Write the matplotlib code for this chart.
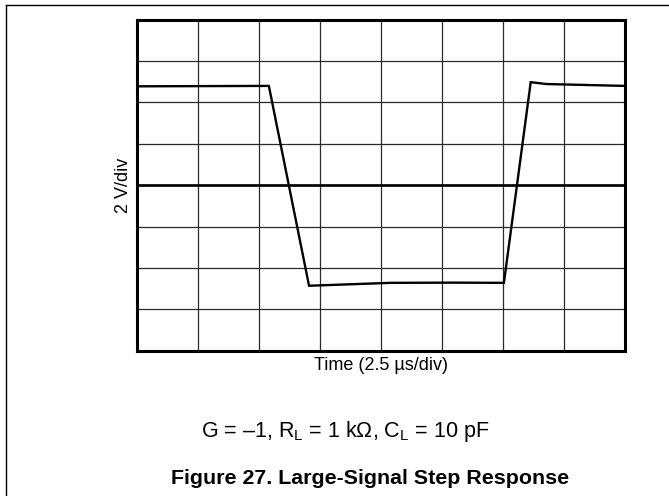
import matplotlib
matplotlib.use("Agg")
import matplotlib.pyplot as plt
from matplotlib.lines import Line2D

plt.rcParams["font.family"] = ["Liberation Sans", "DejaVu Sans"]
plt.rcParams["mathtext.fontset"] = "custom"
plt.rcParams["mathtext.rm"] = "Liberation Sans"
plt.rcParams["mathtext.it"] = "Liberation Sans:italic"
plt.rcParams["mathtext.bf"] = "Liberation Sans:bold"

# Scope trace of the inverting step (time in µs, output in V)
time_us = [0.0, 5.4, 7.05, 10.4, 13.0, 15.05, 16.15, 16.8, 20.0]
vout_v = [4.78, 4.80, -4.86, -4.72, -4.71, -4.72, 4.98, 4.89, 4.80]

# Screen graticule: 8 x 8 divisions
time_per_div = 2.5
volt_per_div = 2.0
n_div = 8

x_label = "Time (2.5 µs/div)"
y_label = "2 V/div"
conditions = r"G = –1, $\mathrm{R_L}$ = 1 kΩ, $\mathrm{C_L}$ = 10 pF"
title = "Figure 27. Large-Signal Step Response"

W, H = 669, 496
fig = plt.figure(figsize=(W / 100, H / 100), dpi=100)

# Page frame lines (top and left)
fig.add_artist(Line2D([6 / W, 1.0], [1 - 5 / H, 1 - 5 / H], color="black", lw=1.0,
                      transform=fig.transFigure))
fig.add_artist(Line2D([6 / W, 6 / W], [0.0, 1 - 5 / H], color="black", lw=1.0,
                      transform=fig.transFigure))

left, right, top, bottom = 137.3, 624.5, 19.7, 350.7
ax = fig.add_axes([left / W, 1 - bottom / H, (right - left) / W, (bottom - top) / H])

t_max = time_per_div * n_div
v_half = volt_per_div * n_div / 2
ax.set_xlim(0, t_max)
ax.set_ylim(-v_half, v_half)
ax.set_xticks([i * time_per_div for i in range(n_div + 1)])
ax.set_yticks([-v_half + i * volt_per_div for i in range(n_div + 1)])
ax.tick_params(length=0, labelbottom=False, labelleft=False)
ax.grid(True, color="#2a2a2a", lw=0.9)
for s in ax.spines.values():
    s.set_linewidth(2.2)
    s.set_color("black")

ax.axhline(0, color="black", lw=1.9, zorder=2)
ax.plot(time_us, vout_v, color="black", lw=1.7, zorder=3,
        solid_joinstyle="miter")

fig.text(380.5 / W, 1 - 366 / H, x_label, ha="center", va="center", fontsize=13)
fig.text(124 / W, 1 - 185 / H, y_label, ha="center", va="center", fontsize=13,
         rotation=90)
fig.text(345 / W, 1 - 432 / H, conditions, ha="center", va="center", fontsize=15.5)
fig.text(370 / W, 1 - 478 / H, title, ha="center", va="center", fontsize=15.4,
         fontweight="bold")

fig.savefig("out.png", dpi=100)
